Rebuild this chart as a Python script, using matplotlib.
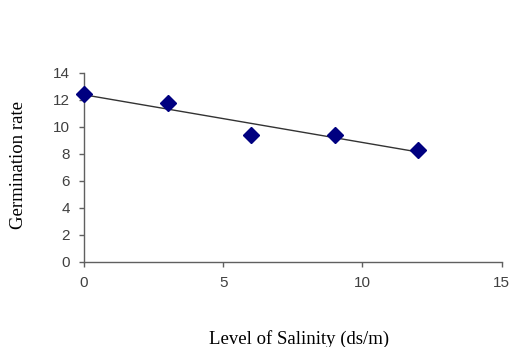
import matplotlib.pyplot as plt
import numpy as np

# salinity levels (ds/m) and germination rate
salinity = [0, 3, 6, 9, 12]
germination = [12.4, 11.8, 9.4, 9.4, 8.3]

fig = plt.figure(figsize=(5.12, 3.47), dpi=100)
ax = fig.add_axes([0.164, 0.245, 0.816, 0.545])

# linear trend line
k, b = np.polyfit(salinity, germination, 1)
xs = np.array([salinity[0], salinity[-1]])
ax.plot(xs, k * xs + b, color='#333333', linewidth=1.0, zorder=2)

ax.plot(salinity, germination, linestyle='none', marker='D',
        markersize=8, color='#000080', zorder=3, clip_on=False)

ax.set_xlim(0, 15)
ax.set_ylim(0, 14)
ax.set_xticks([0, 5, 10, 15])
ax.set_yticks(range(0, 15, 2))

for s in ['top', 'right']:
    ax.spines[s].set_visible(False)
for s in ['left', 'bottom']:
    ax.spines[s].set_color('#606060')
    ax.spines[s].set_linewidth(1.0)

ax.tick_params(direction='out', length=3.6, width=1, color='#606060',
               labelsize=11, labelcolor='#404040', pad=6.5)
for lab in ax.get_xticklabels() + ax.get_yticklabels():
    lab.set_fontname('Liberation Sans')

fig.text(0.037, 0.525, 'Germination rate', rotation=90, ha='center', va='center',
         fontname='Liberation Serif', fontsize=13.5)
fig.text(0.584, 0.022, 'Level of Salinity (ds/m)', ha='center', va='center',
         fontname='Liberation Serif', fontsize=13.5)

fig.savefig('out.png', dpi=100)
